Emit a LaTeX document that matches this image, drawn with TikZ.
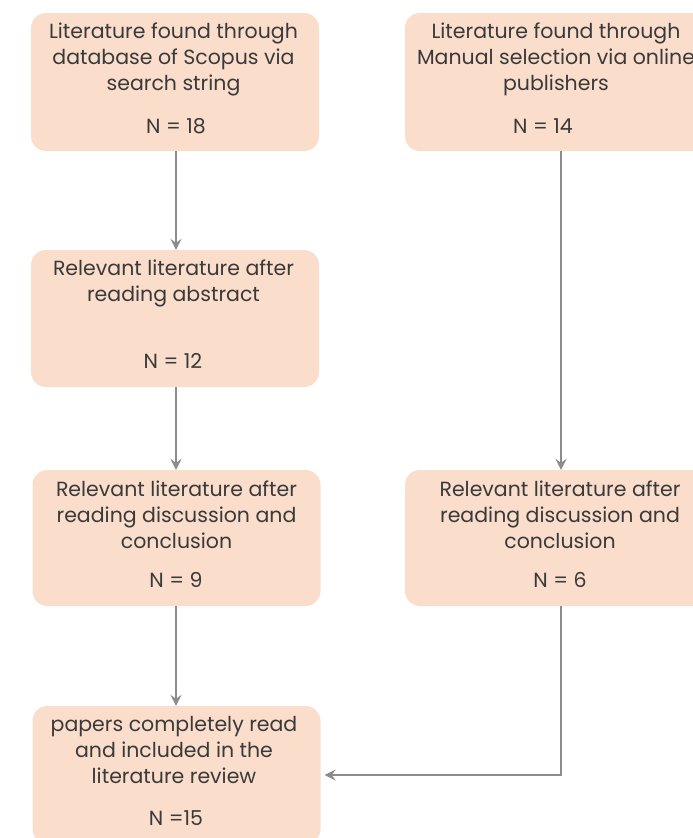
\documentclass[tikz,border=0pt]{standalone}
\usepackage{fontspec}
\setmainfont{Poppins}
\usetikzlibrary{arrows.meta}
\definecolor{boxfill}{HTML}{FADDCB}
\definecolor{arrcol}{HTML}{8C8C8C}
\definecolor{txtcol}{HTML}{3A3A3A}
\begin{document}
\begin{tikzpicture}[x=1pt,y=-1pt,
  box/.style={fill=boxfill,draw=none,rounded corners=15pt,inner sep=0pt,minimum width=288pt},
  txt/.style={text=txtcol,align=center,font=\fontsize{20.5}{26}\selectfont,inner sep=0pt},
  arr/.style={draw=arrcol,line width=1.3pt,-{Stealth[length=11pt,width=11pt,inset=4pt]}}]
\useasboundingbox (0,0) rectangle (693,838);
\begin{scope}
\clip (0,0) rectangle (693,838);
\node[box,minimum height=138pt] (A) at (175,82) {};
\node[box,minimum height=138pt,minimum width=312pt] (B) at (561,82) {};
\node[box,minimum height=137pt] (C) at (175,318.5) {};
\node[box,minimum height=136pt] (D) at (176.5,538) {};
\node[box,minimum height=136pt,minimum width=312pt] (E) at (561,538) {};
\node[box,minimum height=138pt] (F) at (176.5,775) {};
\node[txt] (tB) at (556,59) {Literature found through\\Manual selection via online\\publishers};
\end{scope}
\node[txt] (tA) at (173.5,59) {Literature found through\\database of Scopus via\\search string};
\node[txt] (nA) at (176,126) {N = 18};
\node[txt] (nB) at (543,126) {N = 14};
\node[txt] (tC) at (173.5,283) {Relevant literature after\\reading abstract};
\node[txt] (nC) at (173,361) {N = 12};
\node[txt] (tD) at (176.5,515) {Relevant literature after\\reading discussion and\\conclusion};
\node[txt] (nD) at (176,580) {N = 9};
\node[txt] (tE) at (560,515) {Relevant literature after\\reading discussion and\\conclusion};
\node[txt] (nE) at (560,580) {N = 6};
\node[txt] (tF) at (174,750) {papers completely read\\and included in the\\literature review};
\node[txt] (nF) at (176,818) {N =15};
\draw[arr] (A.south -| 176,0) -- (C.north -| 176,0);
\draw[arr] (C.south -| 176,0) -- (D.north -| 176,0);
\draw[arr] (B.south) -- (E.north);
\draw[arr] (D.south -| 176,0) -- (F.north -| 176,0);
\draw[arr] (E.south) |- ([xshift=4pt]F.east);
\end{tikzpicture}
\end{document}
